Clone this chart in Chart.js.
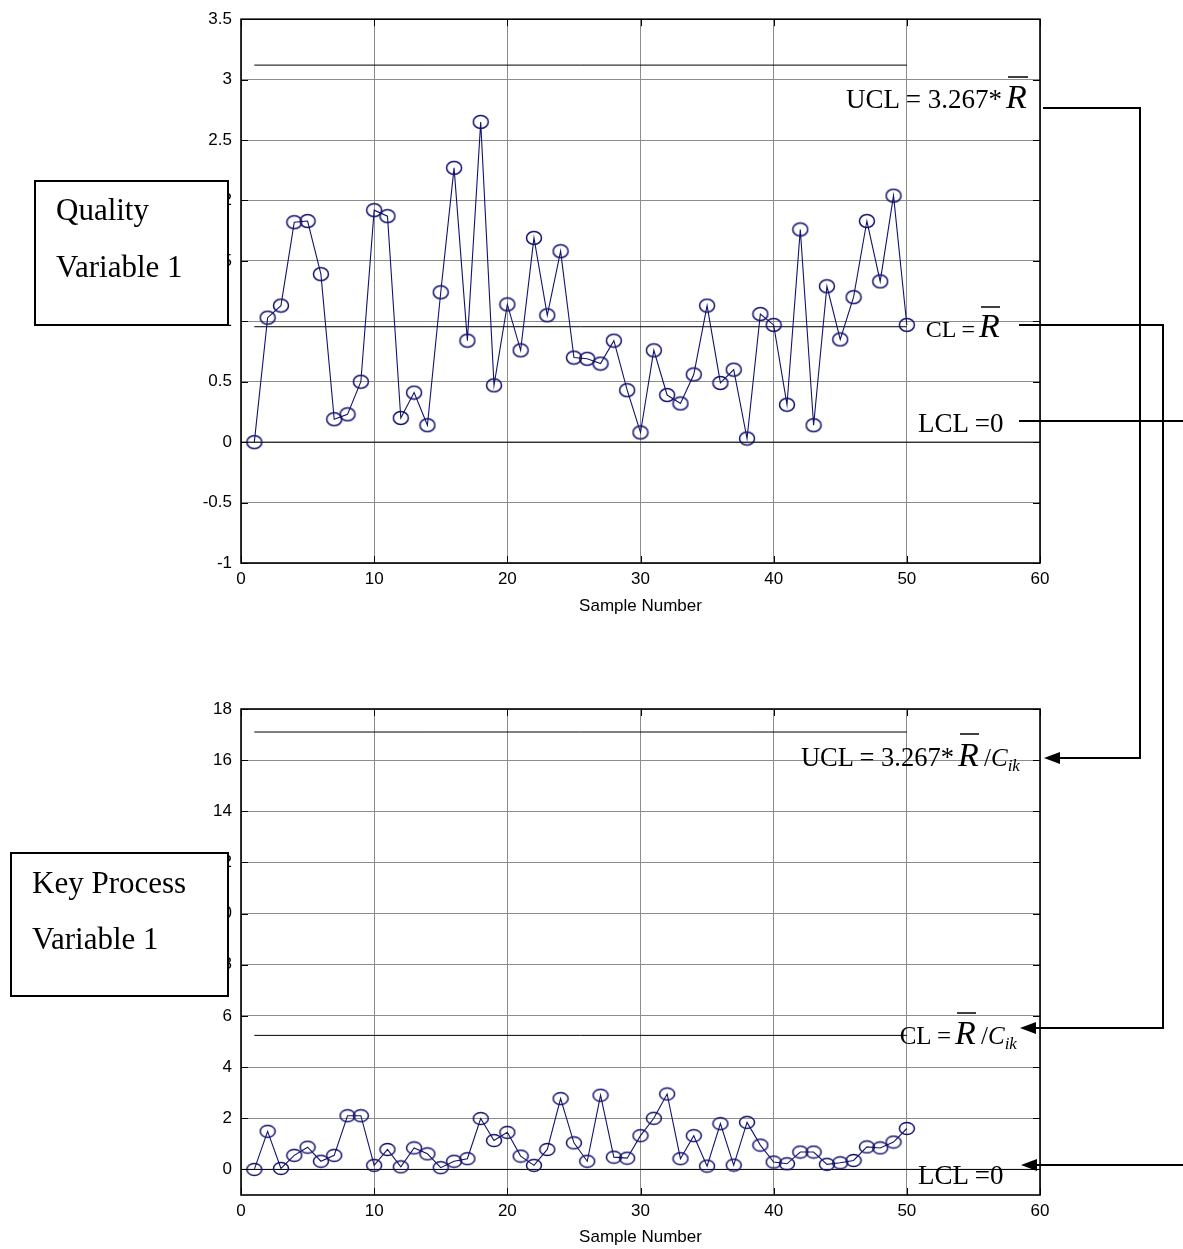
<!DOCTYPE html>
<html>
<head>
<meta charset="utf-8">
<script src="https://cdn.jsdelivr.net/npm/chart.js@4.4.1/dist/chart.umd.min.js"></script>
<style>
  body { margin: 0; background: #fff; }
  #page { position: relative; width: 1183px; height: 1249px; overflow: hidden; }
  canvas { position: absolute; left: 0; }
  #topChart { top: 0; }
  #bottomChart { top: 640px; }
  #notes { position: absolute; left: 0; top: 0; }
  #notes text { font-family: "Liberation Serif", "Times New Roman", serif; fill: #000; }
</style>
</head>
<body>
<div id="page">
  <canvas id="topChart" width="1183" height="620"></canvas>
  <canvas id="bottomChart" width="1183" height="609"></canvas>

  <svg id="notes" width="1183" height="1249">
    <!-- label boxes -->
    <rect x="35" y="181" width="193" height="144" fill="#fff" stroke="#000" stroke-width="2"/>
    <text x="56" y="220" font-size="31">Quality</text>
    <text x="56" y="277" font-size="31">Variable 1</text>

    <rect x="11" y="853" width="217" height="143" fill="#fff" stroke="#000" stroke-width="2"/>
    <text x="32" y="893" font-size="31">Key Process</text>
    <text x="32" y="949" font-size="31">Variable 1</text>

    <!-- top chart limit labels -->
    <text x="1002" y="108" font-size="27" text-anchor="end">UCL = 3.267*</text>
    <text x="1006" y="108" font-size="34" font-style="italic">R</text>
    <line x1="1008" y1="77" x2="1028" y2="77" stroke="#000" stroke-width="1.5"/>

    <text x="975" y="337" font-size="24" text-anchor="end">CL =</text>
    <text x="979" y="337" font-size="34" font-style="italic">R</text>
    <line x1="981" y1="307" x2="1000" y2="307" stroke="#000" stroke-width="1.5"/>

    <text x="918" y="432" font-size="27">LCL =0</text>

    <!-- bottom chart limit labels -->
    <text x="954" y="766" font-size="26.5" text-anchor="end">UCL = 3.267*</text>
    <text x="958" y="766" font-size="34" font-style="italic">R</text>
    <line x1="960" y1="734" x2="979" y2="734" stroke="#000" stroke-width="1.5"/>
    <text x="984" y="766" font-size="25">/<tspan font-style="italic">C</tspan><tspan font-style="italic" font-size="17" dy="5">ik</tspan></text>

    <text x="951" y="1044" font-size="25" text-anchor="end">CL =</text>
    <text x="955" y="1044" font-size="34" font-style="italic">R</text>
    <line x1="957" y1="1013" x2="976" y2="1013" stroke="#000" stroke-width="1.5"/>
    <text x="981" y="1044" font-size="25">/<tspan font-style="italic">C</tspan><tspan font-style="italic" font-size="17" dy="5">ik</tspan></text>

    <text x="918" y="1184" font-size="27">LCL =0</text>

    <!-- connectors -->
    <g fill="none" stroke="#000" stroke-width="2">
      <polyline points="1043,108 1140,108 1140,758 1058,758"/>
      <polyline points="1019,325 1163,325 1163,1028 1034,1028"/>
      <polyline points="1019,421 1183,421"/>
      <polyline points="1183,1165 1035,1165"/>
    </g>
    <g fill="#000">
      <polygon points="1044,758 1060,752 1060,764"/>
      <polygon points="1020,1028 1036,1022 1036,1034"/>
      <polygon points="1021,1165 1037,1159 1037,1171"/>
    </g>
  </svg>
</div>

<script>
//------------------------------------
// Data
//------------------------------------

const sampleNumbers = [
   1,  2,  3,  4,  5,  6,  7,  8,  9, 10,
  11, 12, 13, 14, 15, 16, 17, 18, 19, 20,
  21, 22, 23, 24, 25, 26, 27, 28, 29, 30,
  31, 32, 33, 34, 35, 36, 37, 38, 39, 40,
  41, 42, 43, 44, 45, 46, 47, 48, 49, 50
];

// Quality Variable 1 - moving range
const qualityRange = [
  0.00, 1.03, 1.13, 1.82, 1.83, 1.39, 0.19, 0.23, 0.50, 1.92,
  1.87, 0.20, 0.41, 0.14, 1.24, 2.27, 0.84, 2.65, 0.47, 1.14,
  0.76, 1.69, 1.05, 1.58, 0.70, 0.69, 0.65, 0.84, 0.43, 0.08,
  0.76, 0.39, 0.32, 0.56, 1.13, 0.49, 0.60, 0.03, 1.06, 0.97,
  0.31, 1.76, 0.14, 1.29, 0.85, 1.20, 1.83, 1.33, 2.04, 0.97
];

// Key Process Variable 1 - moving range
const processRange = [
  0.00, 1.49, 0.04, 0.55, 0.87, 0.32, 0.55, 2.10, 2.10, 0.16,
  0.78, 0.10, 0.84, 0.61, 0.07, 0.32, 0.42, 1.99, 1.13, 1.45,
  0.52, 0.16, 0.78, 2.77, 1.04, 0.32, 2.90, 0.48, 0.44, 1.32,
  2.00, 2.95, 0.42, 1.32, 0.13, 1.79, 0.17, 1.84, 0.95, 0.29,
  0.22, 0.68, 0.68, 0.20, 0.26, 0.35, 0.88, 0.84, 1.07, 1.60
];

const qualityCL = 0.955;
const qualityUCL = 3.12;
const processCL = 5.24;
const processUCL = 17.1;
const lcl = 0;

const xTicks = [0, 10, 20, 30, 40, 50, 60];
const qualityTicks = [-1, -0.5, 0, 0.5, 1, 1.5, 2, 2.5, 3, 3.5];
const processTicks = [0, 2, 4, 6, 8, 10, 12, 14, 16, 18];

//------------------------------------
// Helpers
//------------------------------------

const navy = "#12126e";
const tickFont = { family: "'Liberation Sans', Arial, sans-serif", size: 17 };

function ellipseMarker(rx, ry) {
  const c = document.createElement("canvas");
  c.width = Math.round(rx * 2 + 3);
  c.height = Math.round(ry * 2 + 3);
  const g = c.getContext("2d");
  g.strokeStyle = navy;
  g.lineWidth = 1.5;
  g.beginPath();
  g.ellipse(c.width / 2, c.height / 2, rx, ry, 0, 0, Math.PI * 2);
  g.stroke();
  return c;
}

// box + inward tick marks, matlab style
const framePlugin = {
  id: "frame",
  afterDatasetsDraw(chart) {
    const { ctx, chartArea: a, scales } = chart;
    ctx.save();
    ctx.strokeStyle = "#000";
    ctx.lineWidth = 1;
    ctx.beginPath();
    scales.x.ticks.forEach(t => {
      const px = Math.round(scales.x.getPixelForValue(t.value)) + 0.5;
      ctx.moveTo(px, a.bottom); ctx.lineTo(px, a.bottom - 7);
      ctx.moveTo(px, a.top); ctx.lineTo(px, a.top + 7);
    });
    scales.y.ticks.forEach(t => {
      const py = Math.round(scales.y.getPixelForValue(t.value)) + 0.5;
      ctx.moveTo(a.left, py); ctx.lineTo(a.left + 7, py);
      ctx.moveTo(a.right, py); ctx.lineTo(a.right - 7, py);
    });
    ctx.stroke();
    ctx.lineWidth = 1.6;
    ctx.strokeRect(a.left, a.top, a.right - a.left, a.bottom - a.top);
    ctx.restore();
  }
};

function limitLine(value, x0, x1) {
  return {
    data: [{ x: x0, y: value }, { x: x1, y: value }],
    borderColor: "#000",
    borderWidth: 1,
    pointRadius: 0,
    fill: false
  };
}

function makeChart(id, values, cl, ucl, yTicks, padTop, xHeight, titlePad, marker) {
  const first = sampleNumbers[0];
  const last = sampleNumbers[sampleNumbers.length - 1];

  return new Chart(document.getElementById(id), {
    type: "line",
    data: {
      datasets: [
        {
          data: sampleNumbers.map((n, i) => ({ x: n, y: values[i] })),
          borderColor: navy,
          borderWidth: 1.1,
          pointStyle: marker,
          pointRadius: 7,
          tension: 0,
          fill: false
        },
        limitLine(ucl, first, last),
        limitLine(cl, first, last),
        limitLine(lcl, xTicks[0], xTicks[xTicks.length - 1])
      ]
    },
    options: {
      responsive: false,
      animation: false,
      layout: { padding: { left: 0, top: padTop, right: 143, bottom: 0 } },
      plugins: { legend: { display: false }, tooltip: { enabled: false } },
      scales: {
        x: {
          type: "linear",
          min: xTicks[0],
          max: xTicks[xTicks.length - 1],
          afterBuildTicks: s => { s.ticks = xTicks.map(v => ({ value: v })); },
          afterFit: s => { s.height = xHeight; },
          grid: { color: "#8c8c8c", lineWidth: 1, drawTicks: false },
          border: { display: false },
          ticks: { color: "#000", font: tickFont, padding: 6, maxRotation: 0 },
          title: {
            display: true,
            text: "Sample Number",
            color: "#000",
            font: tickFont,
            padding: { top: 0, bottom: titlePad }
          }
        },
        y: {
          type: "linear",
          min: yTicks[0] < 0 ? yTicks[0] : -1,
          max: yTicks[yTicks.length - 1],
          afterBuildTicks: s => { s.ticks = yTicks.map(v => ({ value: v })); },
          afterFit: s => { s.width = 241; },
          grid: { color: "#8c8c8c", lineWidth: 1, drawTicks: false },
          border: { display: false },
          ticks: {
            color: "#000",
            font: tickFont,
            padding: 9,
            callback: v => String(v)
          }
        }
      }
    },
    plugins: [framePlugin]
  });
}

//------------------------------------
// Charts
//------------------------------------

window.addEventListener("load", function () {

  makeChart("topChart", qualityRange, qualityCL, qualityUCL,
            qualityTicks, 16, 57, 3, ellipseMarker(7.5, 6.5));

  makeChart("bottomChart", processRange, processCL, processUCL,
            processTicks, 69, 54, 1, ellipseMarker(7.5, 6));

});
</script>
</body>
</html>
